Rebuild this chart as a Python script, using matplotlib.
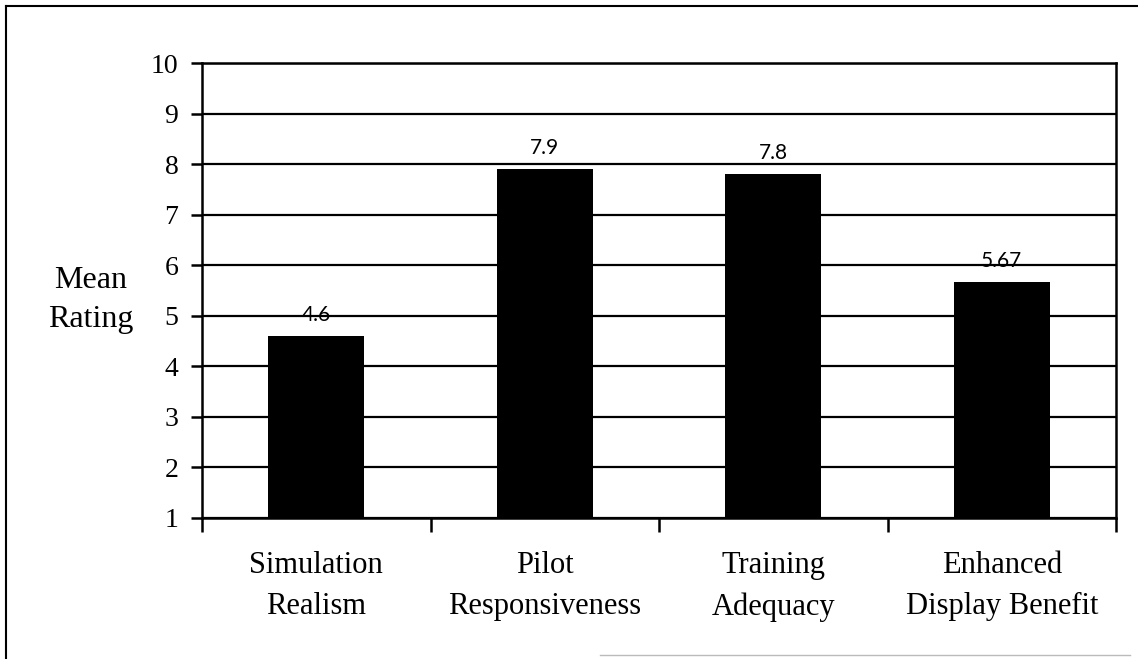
import matplotlib.pyplot as plt
from matplotlib.lines import Line2D

# data
categories = ["Simulation\nRealism", "Pilot\nResponsiveness", "Training\nAdequacy", "Enhanced\nDisplay Benefit"]
mean_ratings = [4.6, 7.9, 7.8, 5.67]
value_labels = ["4.6", "7.9", "7.8", "5.67"]
y_ticks = [1, 2, 3, 4, 5, 6, 7, 8, 9, 10]

plt.rcParams["font.family"] = ["Liberation Serif", "DejaVu Serif"]

fig = plt.figure(figsize=(11.38, 6.59), dpi=100)
ax = fig.add_axes([0.1775, 0.214, 0.8032, 0.690])

x = list(range(len(categories)))
base = y_ticks[0]
heights = [v - base for v in mean_ratings]
ax.bar(x, heights, bottom=base, width=0.42, color="black", zorder=3)

for xi, v, lab in zip(x, mean_ratings, value_labels):
    ax.annotate(lab, (xi, v), xytext=(0, 11), textcoords="offset points",
                ha="center", va="baseline", fontsize=15, family="Lato", zorder=2)

ax.set_xlim(-0.5, len(categories) - 0.5)
ax.set_ylim(1, 10)
ax.set_yticks(y_ticks)
ax.set_yticklabels([str(t) for t in y_ticks])

ax.set_xticks(x)
ax.set_xticklabels(categories, linespacing=1.55)
ax.tick_params(axis="x", which="major", length=0, pad=24, labelsize=22)
ax.set_xticks([i - 0.5 for i in range(len(categories) + 1)], minor=True)
ax.tick_params(axis="x", which="minor", length=10, width=1.8, direction="out")
ax.tick_params(axis="y", length=8, width=1.8, direction="out", pad=9, labelsize=20)

ax.grid(axis="y", color="black", linewidth=1.6, zorder=1)
ax.set_axisbelow(True)
for s in ax.spines.values():
    s.set_linewidth(1.8)

fig.text(91 / 1138, 1 - 300 / 659, "Mean\nRating", ha="center", va="center",
         fontsize=23, linespacing=1.45)

# page border
fig.add_artist(Line2D([6 / 1138, 1.0], [1 - 6 / 659, 1 - 6 / 659], color="black", linewidth=1.5))
fig.add_artist(Line2D([6 / 1138, 6 / 1138], [1 - 6 / 659, 0.0], color="black", linewidth=1.5))
fig.add_artist(Line2D([600 / 1138, 1130 / 1138], [1 - 655 / 659, 1 - 655 / 659], color="#bbbbbb", linewidth=1.0))

fig.savefig("out.png", dpi=100)
